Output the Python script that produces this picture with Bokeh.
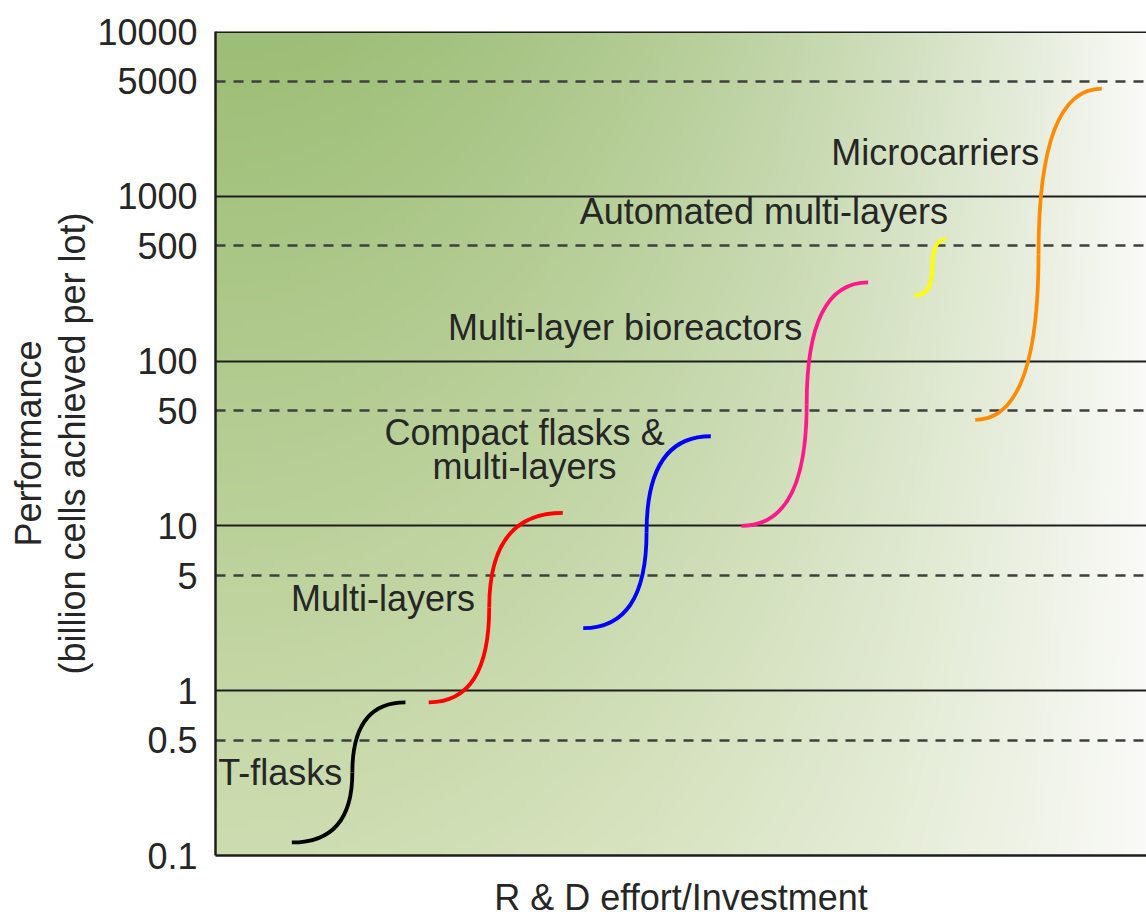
import numpy as np
from bokeh.plotting import figure
from bokeh.models import Range1d, FixedTicker, NumeralTickFormatter, Grid, Span, Title
from bokeh.core.properties import value
from bokeh.embed import file_html
from bokeh.resources import INLINE

# ---------------- data ----------------
tech = ["T-flasks", "Multi-layers", "Compact flasks & multi-layers",
        "Multi-layer bioreactors", "Automated multi-layers", "Microcarriers"]
effort_start = [8.2, 22.9, 39.5, 56.5, 75.1, 81.6]      # R&D effort (arbitrary units)
effort_mid = [14.7, 29.4, 46.3, 63.5, 77.0, 88.4]
effort_end = [20.4, 37.3, 53.2, 70.1, 78.5, 95.2]
perf_start = [0.12, 0.85, 2.4, 10, 250, 44]             # billion cells per lot
perf_end = [0.85, 12, 35, 300, 550, 4500]
colors = ["#000000", "#ff0000", "#0000ff", "#ff1a8c", "#ffff00", "#ff8c00"]

solid_ticks = [1, 10, 100, 1000]
dashed_ticks = [0.5, 5, 50, 500, 5000]
y_ticks = [0.1, 0.5, 1, 5, 10, 50, 100, 500, 1000, 5000, 10000]

label_text = ["T-flasks", "Multi-layers", "Compact flasks &", "multi-layers",
              "Multi-layer bioreactors", "Automated multi-layers", "Microcarriers"]

# ---------------- layout of annotations ----------------
label_x = [0.3, 18.0, 33.2, 33.2, 44.0, 58.9, 77.3]
label_y = [0.319, 3.62, 37.1, 22.9, 160, 809, 1845]
label_align = ["left", "center", "center", "center", "center", "center", "center"]

XMAX = 100.0
FONT = "Liberation Sans"
TXT = "#262626"
LINE = "#1e1e1e"

p = figure(width=1146, height=921, output_backend="svg", toolbar_location=None,
           y_axis_type="log", x_range=Range1d(0, XMAX), y_range=Range1d(0.1, 10000),
           min_border_left=215, min_border_top=31, min_border_right=0, min_border_bottom=66)
p.outline_line_color = None
p.background_fill_color = "white"
p.border_fill_color = "white"

# background gradient
ny, nx = 120, 240
u = np.linspace(0, 1, nx)[None, :]
v = np.linspace(0, 1, ny)[:, None]
w = np.clip(u ** 1.9, 0, 1)
bot = np.array([206, 221, 177], float)
top = np.array([157, 190, 118], float)
white = np.array([250, 250, 248], float)
img = np.zeros((ny, nx, 4), dtype=np.uint8)
for k in range(3):
    g = bot[k] * (1 - v) + top[k] * v
    c = g * (1 - w) + white[k] * w
    img[:, :, k] = np.clip(c, 0, 255).astype(np.uint8)
img[:, :, 3] = 255
rgba = img.view(dtype=np.uint32).reshape((ny, nx))
r_img = p.image_rgba(image=[rgba], x=0, y=0.1, dw=XMAX, dh=10000 - 0.1)
r_img.level = "image"

# grids
p.xgrid.visible = False
p.ygrid.visible = False
g1 = Grid(dimension=1, ticker=FixedTicker(ticks=solid_ticks),
          grid_line_color=LINE, grid_line_width=2.2)
g2 = Grid(dimension=1, ticker=FixedTicker(ticks=dashed_ticks),
          grid_line_color="#3f3f3f", grid_line_width=2.5, grid_line_dash="10 8")
p.add_layout(g1, "center")
p.add_layout(g2, "center")
p.add_layout(Span(location=10000, dimension="width", line_color=LINE, line_width=3))

# S-curves: two quadratic arcs per technology
ym = [float(np.sqrt(a * b)) for a, b in zip(perf_start, perf_end)]
p.quadratic(x0=effort_start, y0=perf_start, x1=effort_mid, y1=ym,
            cx=effort_mid, cy=perf_start, line_color=colors, line_width=3.8)
p.quadratic(x0=effort_mid, y0=ym, x1=effort_end, y1=perf_end,
            cx=effort_mid, cy=perf_end, line_color=colors, line_width=3.8)

# text labels
p.text(x=label_x, y=label_y, text=label_text, text_align=label_align,
       text_baseline="middle", text_font=value(FONT), text_font_size="36px",
       text_color=TXT)

# axes
ya = p.yaxis[0]
ya.ticker = FixedTicker(ticks=y_ticks, minor_ticks=[])
ya.formatter = NumeralTickFormatter(format="0[.][0]")
ya.major_tick_line_color = None
ya.minor_tick_line_color = None
ya.major_tick_out = 0
ya.major_tick_in = 0
ya.axis_line_color = LINE
ya.axis_line_width = 2.5
ya.major_label_text_font = FONT
ya.major_label_text_font_size = "36px"
ya.major_label_text_color = TXT
ya.major_label_standoff = 18

t1 = Title(text="(billion cells achieved per lot)", align="center", standoff=3,
           text_font=FONT, text_font_size="36px", text_font_style="normal",
           text_color=TXT)
t2 = Title(text="Performance", align="center", standoff=0,
           text_font=FONT, text_font_size="36px", text_font_style="normal",
           text_color=TXT)
p.add_layout(t1, "left")
p.add_layout(t2, "left")

xa = p.xaxis[0]
xa.ticker = FixedTicker(ticks=[])
xa.major_tick_line_color = None
xa.minor_tick_line_color = None
xa.major_tick_out = 0
xa.major_tick_in = 0
xa.major_label_standoff = 0
xa.major_label_text_font_size = "0px"
xa.axis_line_color = LINE
xa.axis_line_width = 2.5
xa.axis_label = "R & D effort/Investment"
xa.axis_label_text_font = FONT
xa.axis_label_text_font_size = "36px"
xa.axis_label_text_font_style = "normal"
xa.axis_label_text_color = TXT
xa.axis_label_standoff = 21

open("out.html", "w").write(file_html(p, INLINE))
